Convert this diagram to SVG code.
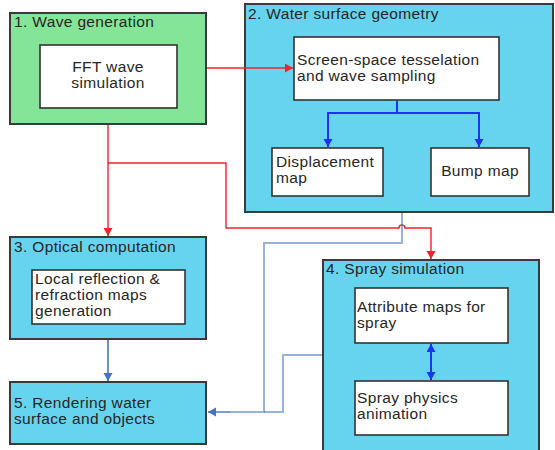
<svg xmlns="http://www.w3.org/2000/svg" width="555" height="450" viewBox="0 0 555 450">
<style>
.outer{stroke:#3a3a3a;stroke-width:2}
.green{fill:#84e598}
.blue{fill:#67d4ef}
.inner{fill:#fff;stroke:#333;stroke-width:1.6}
text{font-family:"Liberation Sans",Arial,sans-serif;font-size:15.5px;letter-spacing:0.35px;fill:#262626}
.red{fill:none;stroke:#f3232b;stroke-width:1.4}
.bl{fill:none;stroke:#1b33f2;stroke-width:2}
.lb{fill:none;stroke:#4472c4;stroke-width:2;stroke-opacity:0.55}
.lbd{fill:none;stroke:#4472c4;stroke-width:1.6}
</style>
<defs>
<marker id="ar" markerUnits="userSpaceOnUse" markerWidth="10" markerHeight="10" refX="8" refY="4.5" orient="auto"><path d="M0,0 L8,4.5 L0,9 Z" fill="#f3232b"/></marker>
<marker id="ab" markerUnits="userSpaceOnUse" markerWidth="10" markerHeight="10" refX="8" refY="4.5" orient="auto-start-reverse"><path d="M0,0 L8,4.5 L0,9 Z" fill="#1b33f2"/></marker>
<marker id="al" markerUnits="userSpaceOnUse" markerWidth="10" markerHeight="10" refX="8" refY="4.5" orient="auto"><path d="M0,0 L8,4.5 L0,9 Z" fill="#4472c4"/></marker>
</defs>
<g id="node1">
<rect class="outer green" x="10" y="13" width="196" height="111"/>
<text x="14" y="27">1. Wave generation</text>
<rect class="inner" x="40" y="45" width="137" height="63"/>
<text x="108" y="72" text-anchor="middle">FFT wave</text>
<text x="108" y="88" text-anchor="middle">simulation</text>
</g>
<g id="node2">
<rect class="outer blue" x="245" y="4" width="308" height="208"/>
<text x="248" y="19">2. Water surface geometry</text>
<rect class="inner" x="294" y="37" width="205" height="63"/>
<text x="297" y="65">Screen-space tesselation</text>
<text x="297" y="81">and wave sampling</text>
<rect class="inner" x="272" y="148" width="111" height="48"/>
<text x="276" y="167">Displacement</text>
<text x="276" y="183">map</text>
<rect class="inner" x="431" y="148" width="98" height="48"/>
<text x="480" y="176" text-anchor="middle">Bump map</text>
</g>
<g id="node3">
<rect class="outer blue" x="10" y="237" width="196" height="102"/>
<text x="14" y="252">3. Optical computation</text>
<rect class="inner" x="32" y="270" width="153" height="54"/>
<text x="35" y="284">Local reflection &amp;</text>
<text x="35" y="300">refraction maps</text>
<text x="35" y="316">generation</text>
</g>
<g id="node4">
<rect class="outer blue" x="323" y="260" width="216" height="194"/>
<text x="326" y="274">4. Spray simulation</text>
<rect class="inner" x="355" y="288" width="153" height="55"/>
<text x="357" y="312">Attribute maps for</text>
<text x="357" y="328">spray</text>
<rect class="inner" x="355" y="381" width="153" height="54"/>
<text x="357" y="403">Spray physics</text>
<text x="357" y="419">animation</text>
</g>
<g id="node5">
<rect class="outer blue" x="10" y="382" width="196" height="62"/>
<text x="14" y="408">5. Rendering water</text>
<text x="14" y="424">surface and objects</text>
</g>
<g id="connectors">
<path class="red" d="M207,68 H293" marker-end="url(#ar)"/>
<path class="red" d="M108,125 V236" marker-end="url(#ar)"/>
<path class="red" d="M108,163 H226 V228 H399 A3,3 0 0 1 405,228 H431 V259" marker-end="url(#ar)"/>
<path class="bl" d="M397,101 V113 H328 V147" marker-end="url(#ab)"/>
<path class="bl" d="M397,113 H479 V147" marker-end="url(#ab)"/>
<path class="bl" d="M431,344 V380" marker-start="url(#ab)" marker-end="url(#ab)"/>
<path class="lbd" d="M108,340 V381" marker-end="url(#al)"/>
<path class="lb" d="M402,213 V243 H264 V412 H208"/>
<path class="lb" d="M322,355 H283 V412 H264"/>
<path class="lbd" d="M230,412 H208" marker-end="url(#al)" stroke-opacity="0.4"/>
</g>
</svg>
